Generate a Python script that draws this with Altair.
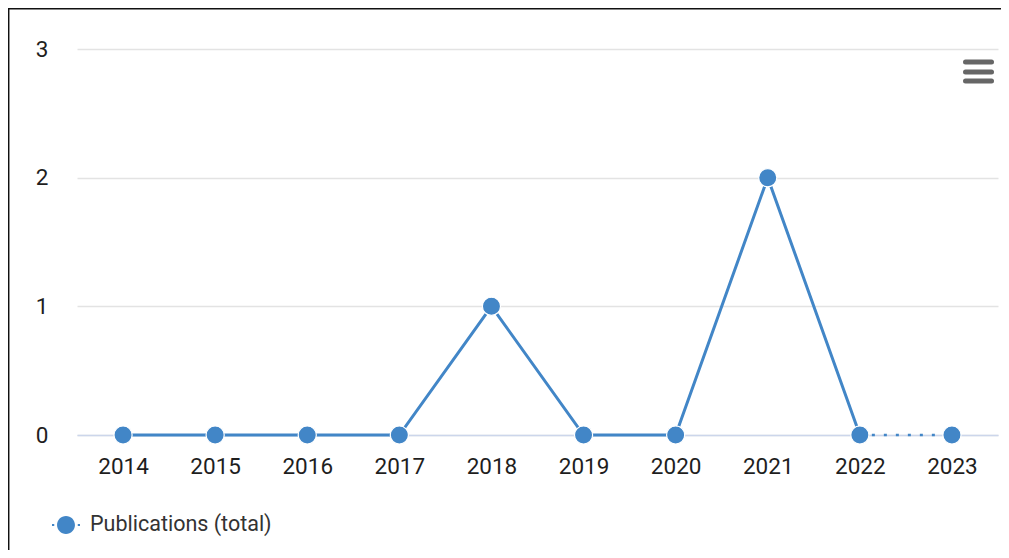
import altair as alt
import pandas as pd

years = ["2014", "2015", "2016", "2017", "2018", "2019", "2020", "2021", "2022", "2023"]
values = [0, 0, 0, 0, 1, 0, 0, 2, 0, 0]
series_name = "Publications (total)"
solid_years = years[:-1]
dotted_years = years[-2:]
y_ticks = [0, 1, 2, 3]

COLOR = "#4286c7"
FONT = "Roboto"

df = pd.DataFrame({"year": years, "value": values, "series": [series_name] * len(years)})

x_enc = alt.X(
    "year:O",
    scale=alt.Scale(type="point", padding=0.5),
    axis=alt.Axis(
        title=None, labelAngle=0, ticks=False, grid=False,
        domainColor="#ccd6eb", domainWidth=1.5,
        labelFontSize=22.5, labelColor="#1e1e1e", labelPadding=20, labelFont=FONT,
    ),
)
y_enc = alt.Y(
    "value:Q",
    scale=alt.Scale(domain=[0, 3], nice=False),
    axis=alt.Axis(
        title=None, values=y_ticks, ticks=False, domain=False,
        gridColor="#e3e3e3", gridWidth=1.5,
        labelFontSize=22.5, labelColor="#1e1e1e", labelPadding=29, labelFont=FONT,
    ),
)

base = alt.Chart(df)

solid = base.mark_line(color=COLOR, strokeWidth=3).encode(x=x_enc, y=y_enc).transform_filter(
    alt.FieldOneOfPredicate(field="year", oneOf=solid_years)
)
dotted = base.mark_line(color=COLOR, strokeWidth=2.5, strokeDash=[3, 9]).encode(
    x=x_enc, y=y_enc
).transform_filter(alt.FieldOneOfPredicate(field="year", oneOf=dotted_years))

legend_symbol = (
    "M-0.64,0A0.64,0.64,0,1,1,0.64,0A0.64,0.64,0,1,1,-0.64,0Z"
    "M-1,-0.07H-0.84V0.07H-1Z M0.84,-0.07H1V0.07H0.84Z"
)

points = base.mark_point(filled=True, size=330, opacity=1, stroke="white", strokeWidth=1.2).encode(
    x=x_enc,
    y=y_enc,
    color=alt.Color(
        "series:N",
        scale=alt.Scale(domain=[series_name], range=[COLOR]),
        legend=alt.Legend(
            title=None, orient="none", legendX=-25, legendY=462,
            symbolType=legend_symbol, symbolSize=784, symbolStrokeWidth=0,
            labelFontSize=21.5, labelColor="#333333", labelFont=FONT,
            labelOffset=10, padding=0, labelLimit=400,
        ),
    ),
)

helper_df = pd.DataFrame({"k": [0]})

def rule(**enc):
    return alt.Chart(helper_df).mark_rule(**enc.pop("_mark")).encode(**enc)

menu_mark = dict(color="#666666", strokeWidth=5, strokeCap="round")
menu1 = rule(_mark=menu_mark, x=alt.value(888.5), x2=alt.value(914.5), y=alt.value(13))
menu2 = rule(_mark=menu_mark, x=alt.value(888.5), x2=alt.value(914.5), y=alt.value(23))
menu3 = rule(_mark=menu_mark, x=alt.value(888.5), x2=alt.value(914.5), y=alt.value(32))

border_mark = dict(color="#111111", strokeWidth=1.5)
border_top = rule(_mark=border_mark, x=alt.value(-69), x2=alt.value(940), y=alt.value(-40.3))
border_left = rule(_mark=border_mark, x=alt.value(-68.3), y=alt.value(-41), y2=alt.value(520))

chart = (
    alt.layer(solid, dotted, points, menu1, menu2, menu3, border_top, border_left)
    .properties(
        width=921, height=386,
        autosize=alt.AutoSizeParams(type="none"),
        padding={"left": 69, "top": 41, "right": 3, "bottom": 115},
    )
    .configure(font=FONT)
    .configure_view(strokeWidth=0)
)

chart.save("out.html", embed_options={"renderer": "svg", "actions": False})
